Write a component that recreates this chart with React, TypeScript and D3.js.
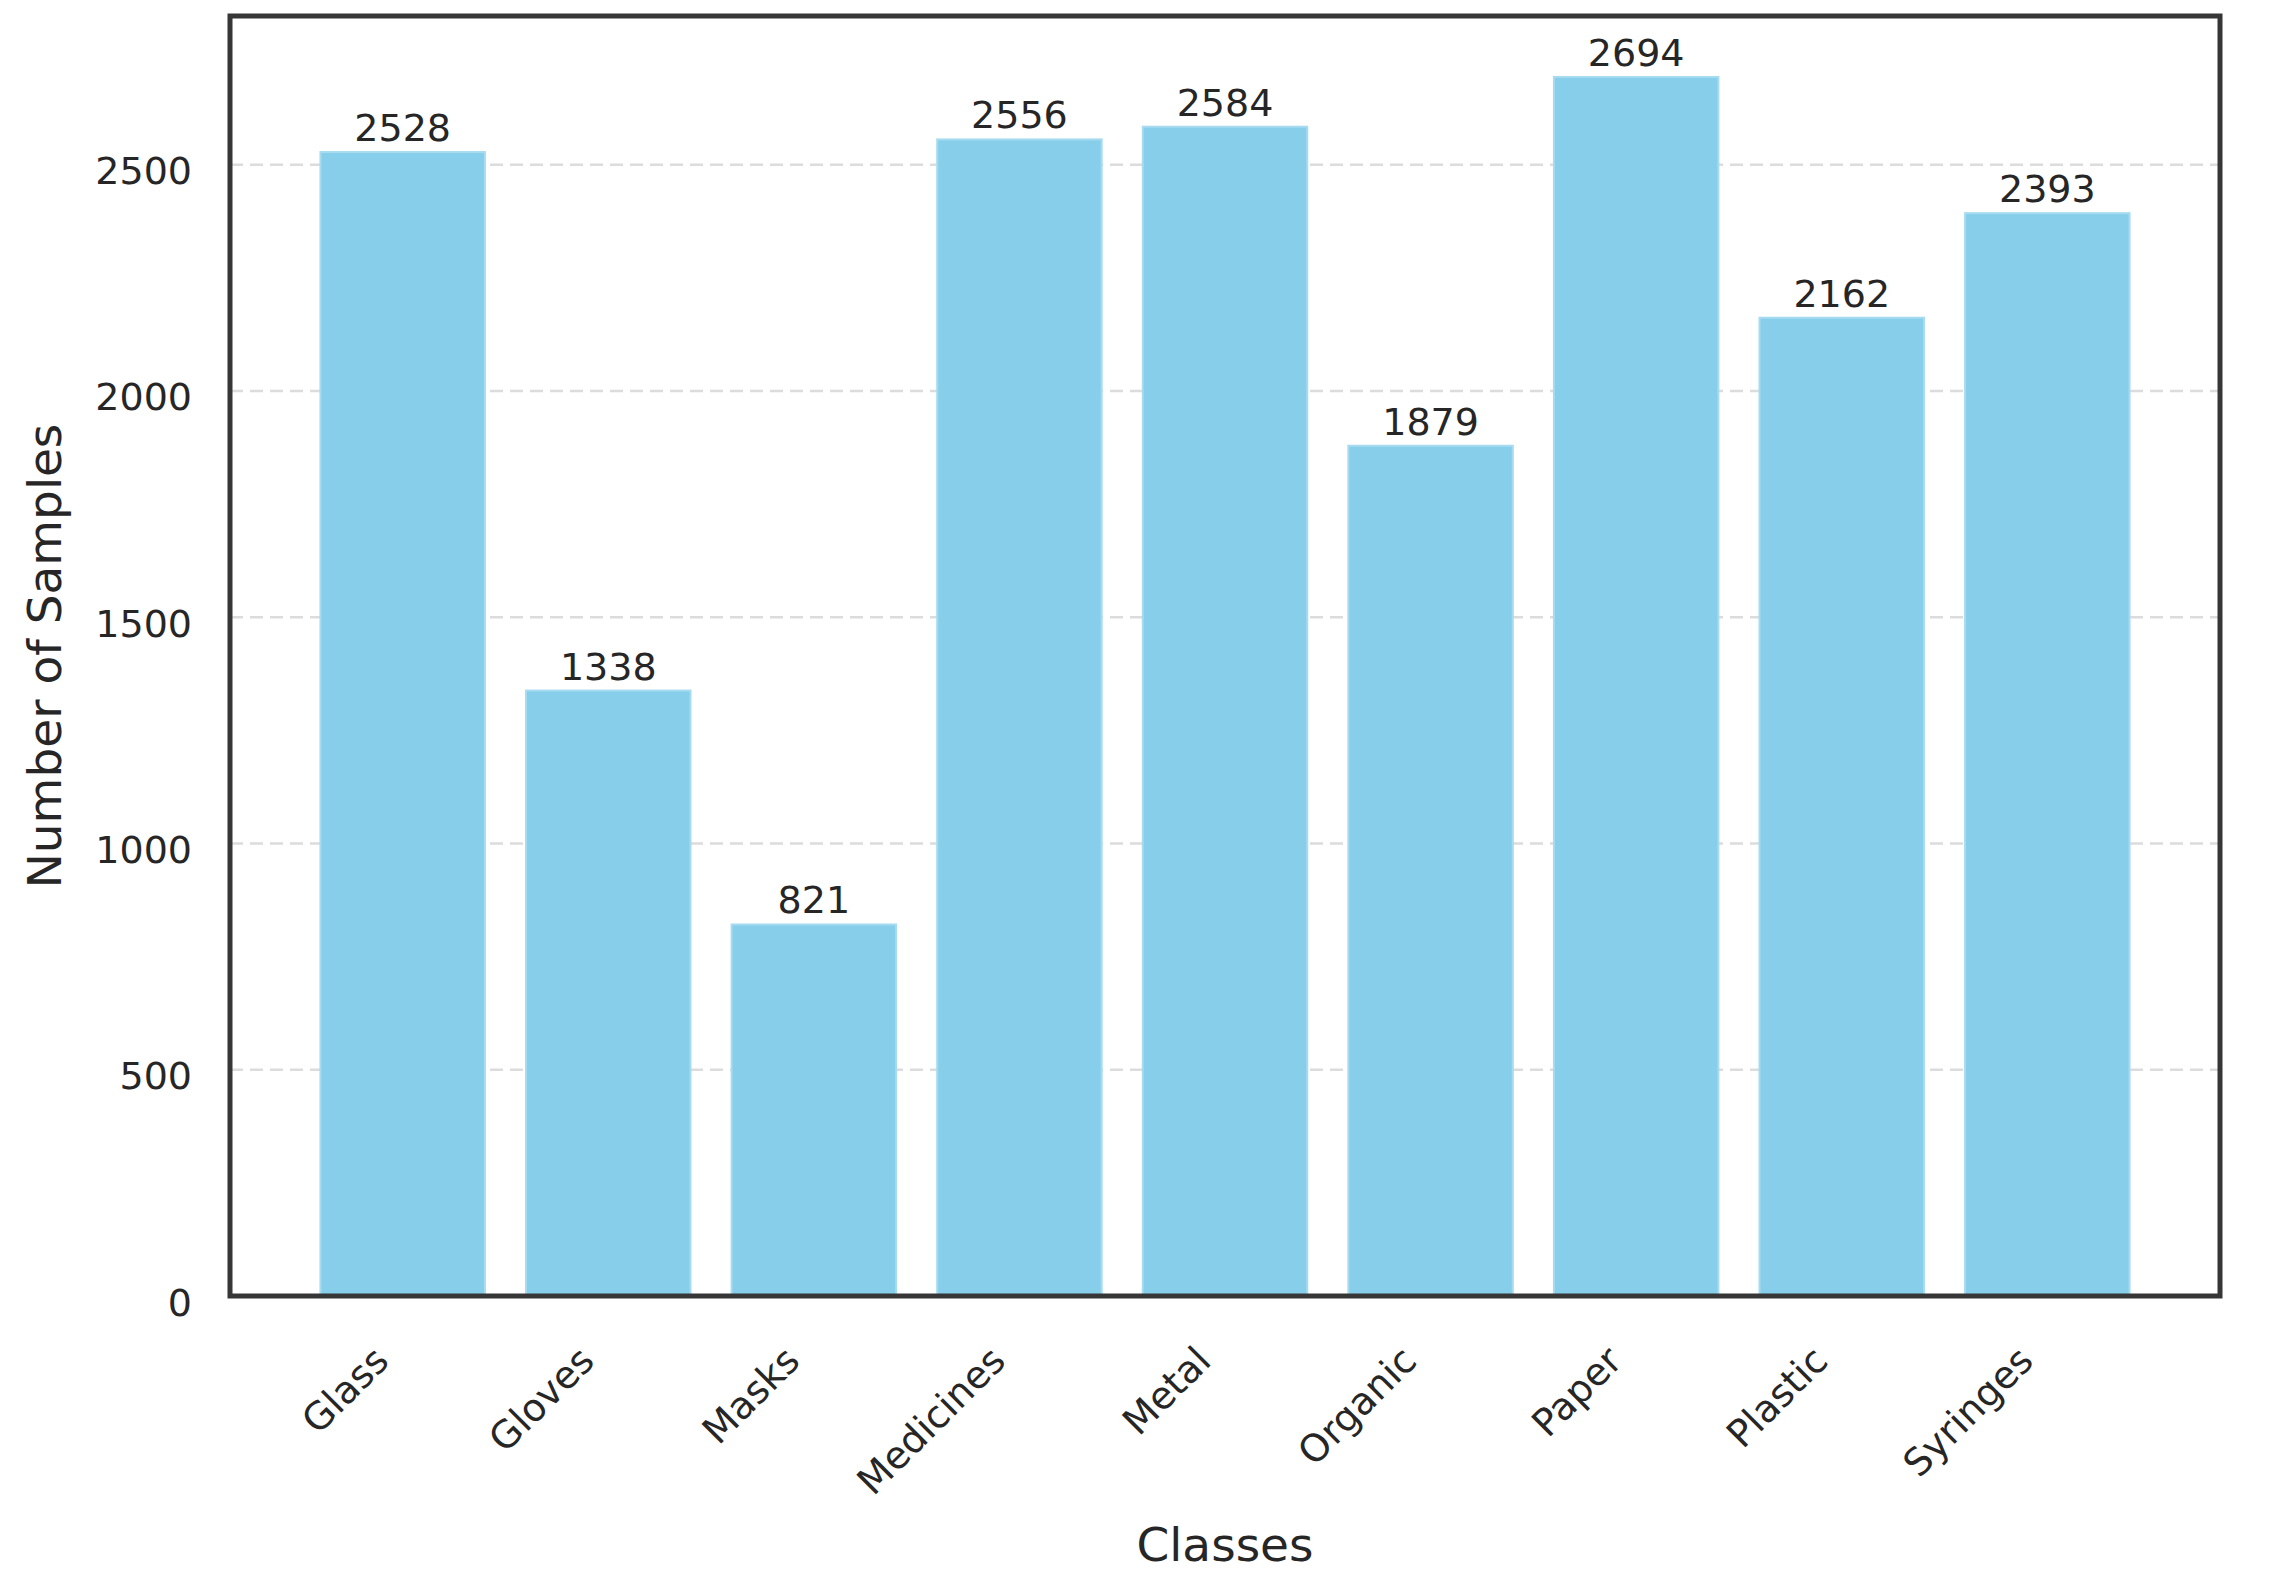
import React from "react";
import * as d3 from "d3";

const classes = ["Glass", "Gloves", "Masks", "Medicines", "Metal", "Organic", "Paper", "Plastic", "Syringes"];
const counts = [2528, 1338, 821, 2556, 2584, 1879, 2694, 2162, 2393];
const yTicks = [0, 500, 1000, 1500, 2000, 2500];
const xLabel = "Classes";
const yLabel = "Number of Samples";

const W = 2272;
const H = 1576;
const plot = { left: 230, right: 2220, top: 16, bottom: 1296 };
const FONT = "'DejaVu Sans', sans-serif";
const TEXT = "#262626";

export default function App() {
  const yMax = d3.max(counts)! * 1.05;
  const x = d3
    .scaleBand<string>()
    .domain(classes)
    .range([plot.left, plot.right])
    .paddingInner(0.2)
    .paddingOuter(0.44);
  const y = d3.scaleLinear().domain([0, yMax]).range([plot.bottom, plot.top]);
  const bw = x.bandwidth();

  return (
    <svg
      width={W}
      height={H}
      viewBox={`0 0 ${W} ${H}`}
      style={{ position: "absolute", left: 0, top: 0, background: "#ffffff" }}
      fontFamily={FONT}
    >
      <rect x={0} y={0} width={W} height={H} fill="#ffffff" />
      {/* grid */}
      {yTicks.map((t) => (
        <line
          key={"g" + t}
          x1={plot.left}
          x2={plot.right}
          y1={y(t)}
          y2={y(t)}
          stroke="#dcdcdc"
          strokeWidth={2.5}
          strokeDasharray="13 7"
        />
      ))}
      {/* bars */}
      {classes.map((c, i) => (
        <rect
          key={"b" + c}
          x={x(c)!}
          y={y(counts[i])}
          width={bw}
          height={y(0) - y(counts[i])}
          fill="#87CEEB"
          stroke="#a6dbf0"
          strokeWidth={2}
        />
      ))}
      {/* value labels */}
      {classes.map((c, i) => (
        <text
          key={"v" + c}
          x={x(c)! + bw / 2}
          y={y(counts[i]) - 11}
          textAnchor="middle"
          fontSize={38}
          fill={TEXT}
        >
          {counts[i]}
        </text>
      ))}
      {/* frame */}
      <rect
        x={plot.left}
        y={plot.top}
        width={plot.right - plot.left}
        height={plot.bottom - plot.top}
        fill="none"
        stroke="#363636"
        strokeWidth={5}
      />
      {/* y tick labels */}
      {yTicks.map((t) => (
        <text
          key={"yt" + t}
          x={192}
          y={y(t) + 19.5}
          textAnchor="end"
          fontSize={38}
          fill={TEXT}
        >
          {t}
        </text>
      ))}
      {/* x tick labels */}
      {classes.map((c) => {
        const ax = x(c)! + bw / 2 - 12;
        const ay = 1363;
        return (
          <text
            key={"xt" + c}
            x={ax}
            y={ay}
            textAnchor="end"
            fontSize={38}
            fill={TEXT}
            transform={`rotate(-45 ${ax} ${ay})`}
          >
            {c}
          </text>
        );
      })}
      {/* axis labels */}
      <text
        x={(plot.left + plot.right) / 2}
        y={1561}
        textAnchor="middle"
        fontSize={47}
        fill={TEXT}
      >
        {xLabel}
      </text>
      <text
        x={61}
        y={(plot.top + plot.bottom) / 2}
        textAnchor="middle"
        fontSize={47}
        fill={TEXT}
        transform={`rotate(-90 61 ${(plot.top + plot.bottom) / 2})`}
      >
        {yLabel}
      </text>
    </svg>
  );
}
